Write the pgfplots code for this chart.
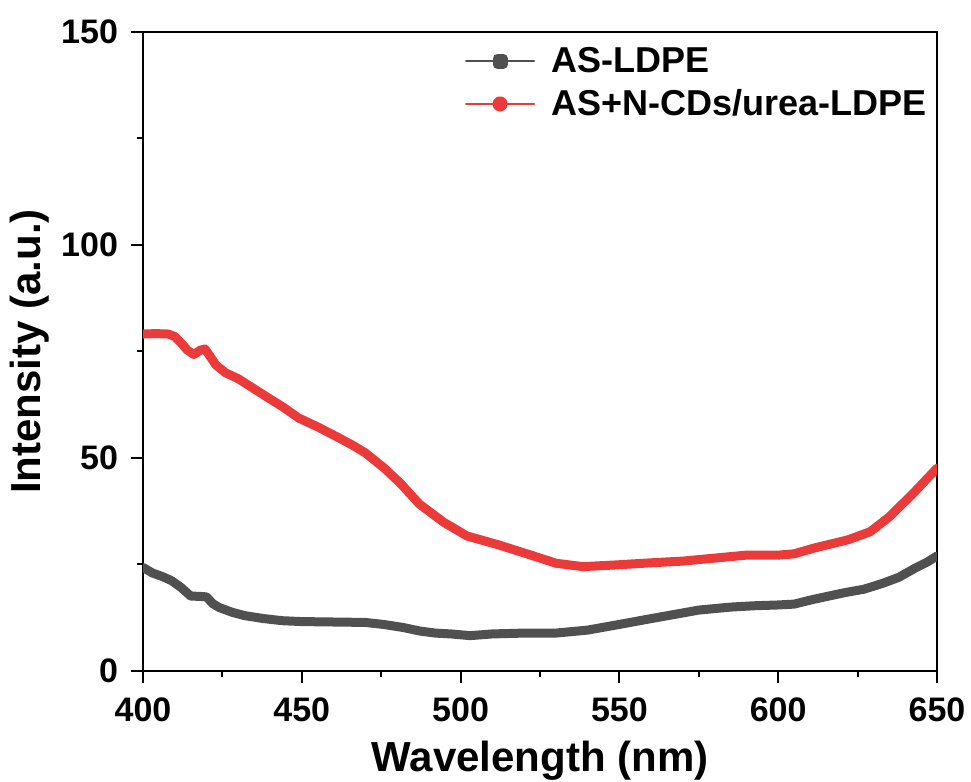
\documentclass[border=0pt]{standalone}
\usepackage{fontspec}
\setmainfont{Liberation Sans}
\usepackage{pgfplots}
\pgfplotsset{compat=1.18}
\definecolor{cgray}{RGB}{80,80,80}
\definecolor{cred}{RGB}{234,58,58}
\begin{document}
\begin{tikzpicture}
\path[use as bounding box] (-71.5pt,-55.5pt) rectangle (414pt,335.5pt);
\begin{axis}[
  scale only axis,
  width=397pt, height=319.5pt,
  xmin=400, xmax=650, ymin=0, ymax=150,
  xtick={400,450,...,650}, ytick={0,50,100,150},
  minor x tick num=1, minor y tick num=1,
  tick align=outside, xtick pos=left, ytick pos=left,
  major tick length=6pt, minor tick length=3pt,
  every tick/.style={black, line width=1pt},
  axis line style={line width=1.1pt},
  /pgf/number format/assume math mode=true,
  ticklabel style={font=\fontsize{17}{20}\selectfont\bfseries},
  xticklabel style={yshift=-4pt},
  yticklabel style={xshift=-3pt},
  xlabel={Wavelength (nm)}, ylabel={Intensity (a.u.)},
  every axis x label/.style={at={(axis description cs:0.5,0)}, anchor=base, yshift=-50.5pt, font=\fontsize{21}{25}\selectfont\bfseries},
  every axis y label/.style={at={(axis description cs:-0.1423,0.5)}, rotate=90, anchor=center, font=\fontsize{21}{25}\selectfont\bfseries},
  legend style={at={(axis description cs:0.405,0.983)}, anchor=north west, draw=none, fill=none,
    font=\fontsize{18}{21}\selectfont\bfseries, row sep=3pt, inner sep=0pt,
    nodes={inner xsep=8pt, inner ysep=2pt}},
  legend cell align=left,
]
\addplot[cgray, line width=4.5pt, line join=round, line cap=round,
  legend image code/.code={\draw[cgray, line width=1.1pt] (0pt,0pt) -- (34pt,0pt); \fill[cgray] (15.5pt,-1.5pt) rectangle (18.5pt,1.5pt);}]
coordinates {
(400,24.3) (403,23.0) (406,22.2) (409,21.2) (412,19.6) (415,17.6) (418,17.5) (420,17.4)
(422,15.8) (424,14.9) (428,13.8) (432,13.0) (438,12.3) (444,11.8) (450,11.6) (460,11.5)
(470,11.4) (476,10.9) (482,10.2) (487,9.4) (492,8.9) (497,8.7) (503,8.3) (510,8.7)
(520,8.9) (530,8.9) (540,9.6) (549,10.8) (560,12.3) (575,14.3) (585,15.0) (592,15.3)
(600,15.5) (605,15.7) (611,16.8) (621,18.4) (627,19.2) (633,20.6) (638,22.0) (643,24.1)
(647,25.6) (650,27.0)
};
\addlegendentry{AS-LDPE}
\addplot[cred, line width=4.5pt, line join=round, line cap=round,
  legend image code/.code={\draw[cred, line width=1.1pt] (0pt,0pt) -- (34pt,0pt); \fill[cred] (17pt,0pt) circle (1.6pt);}]
coordinates {
(400,79.1) (404,79.2) (408,79.1) (410,78.5) (412,77.0) (414,75.3) (416,74.3) (418,75.3)
(419.5,75.6) (421,74.0) (423,71.8) (426,70.0) (430,68.6) (438,64.8) (444,62.0) (449,59.4)
(455,57.3) (461,55.0) (466,53.0) (470,51.2) (476,47.6) (481,44.1) (487,39.2) (494.5,35.0)
(502,31.7) (512,29.6) (523,27.0) (530,25.3) (538.5,24.5) (549,24.9) (560,25.4) (570,25.8)
(580,26.5) (590,27.2) (600,27.2) (605,27.5) (611,28.8) (622,30.8) (629,32.7) (635,36.2)
(642.5,41.7) (650,47.6)
};
\addlegendentry{AS+N-CDs/urea-LDPE}
\end{axis}
\end{tikzpicture}
\end{document}
